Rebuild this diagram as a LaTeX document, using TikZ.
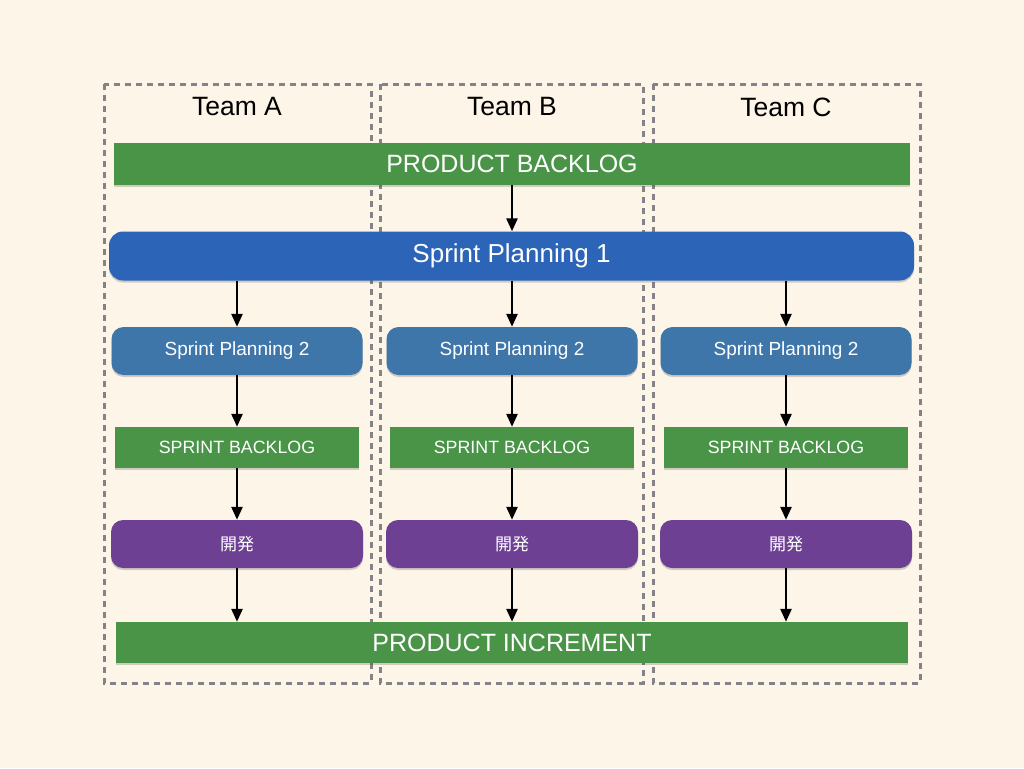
\documentclass[tikz,border=0pt]{standalone}
\usepackage{fontspec}
\setmainfont{Liberation Sans}
\newfontfamily\jpfont{Noto Sans CJK JP}
\usetikzlibrary{arrows.meta,shadows}
\definecolor{bgc}{RGB}{253,245,231}
\definecolor{greenc}{RGB}{74,148,72}
\definecolor{bluec}{RGB}{44,100,184}
\definecolor{steelc}{RGB}{62,118,170}
\definecolor{purplec}{RGB}{110,64,148}
\definecolor{dashc}{RGB}{130,130,136}
\tikzset{
  teambox/.style={draw=dashc,line width=3pt,dash pattern=on 6pt off 5pt},
  shad/.style={drop shadow={shadow xshift=0pt,shadow yshift=-2pt,opacity=0.25,fill=black!70}},
  greenbar/.style={fill=greenc,draw=none,text=white,inner sep=0pt,shad},
  bigblue/.style={fill=bluec,draw=none,text=white,rounded corners=14pt,inner sep=0pt,shad},
  sp2/.style={fill=steelc,draw=none,text=white,rounded corners=12pt,inner sep=0pt,minimum width=251pt,minimum height=48pt,font=\fontsize{19}{22}\selectfont,shad},
  sbl/.style={greenbar,minimum width=244pt,minimum height=41pt,font=\fontsize{17.8}{22}\selectfont},
  dev/.style={fill=purplec,draw=none,text=white,rounded corners=12pt,inner sep=0pt,minimum width=252pt,minimum height=48pt,font=\jpfont\fontsize{17}{20}\selectfont,shad},
  teamlbl/.style={font=\fontsize{26.5}{30}\selectfont,text=black},
  arr/.style={-{Triangle[length=13pt,width=11pt]},line width=2.6pt,black}
}
\begin{document}
\begin{tikzpicture}[x=1pt,y=-1pt]
\fill[bgc] (0,0) rectangle (1024,768);
\useasboundingbox (0,0) rectangle (1024,768);
% team boxes
\draw[teambox] (104,84) rectangle (371,683);
\draw[teambox] (380,84) rectangle (643,683);
\draw[teambox] (653,84) rectangle (920,683);
\node[teamlbl] (tA) at (237,107) {Team A};
\node[teamlbl] (tB) at (512,107) {Team B};
\node[teamlbl] (tC) at (786,107) {Team C};
% product backlog
\node[greenbar,minimum width=796pt,minimum height=42pt,font=\fontsize{25}{30}\selectfont] (pb) at (512,164) {PRODUCT BACKLOG};
% sprint planning 1
\node[bigblue,minimum width=805pt,minimum height=49pt,font=\fontsize{26}{30}\selectfont] (sp1) at (511.5,256) {Sprint Planning 1};
% columns
\foreach \n/\x in {a/237,b/512,c/786}{
  \node[sp2] (sp2\n) at (\x,351) {Sprint Planning 2};
  \node[sbl] (sb\n) at (\x,447.5) {SPRINT BACKLOG};
  \node[dev] (dev\n) at (\x,544) {開発};
}
% product increment
\node[greenbar,minimum width=792pt,minimum height=41pt,font=\fontsize{25}{30}\selectfont] (pi) at (512,642.5) {PRODUCT INCREMENT};
% arrows
\draw[arr] (pb.south) -- (sp1.north -| pb.south);
\foreach \n/\x in {a/237,b/512,c/786}{
  \draw[arr] (sp1.south -| sp2\n.north) -- (sp2\n.north);
  \draw[arr] (sp2\n.south) -- (sb\n.north);
  \draw[arr] (sb\n.south) -- (dev\n.north);
  \draw[arr] (dev\n.south) -- (pi.north -| dev\n.south);
}
\end{tikzpicture}
\end{document}
